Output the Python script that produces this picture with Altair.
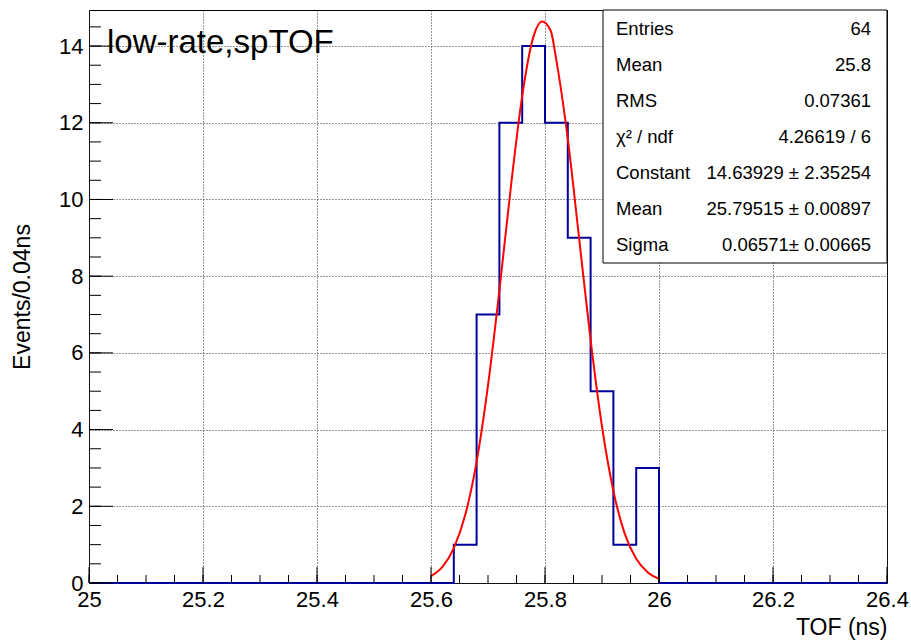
import altair as alt
import pandas as pd
import numpy as np

# ---------------- data ----------------
X_DOMAIN = [25.0, 26.4]
Y_DOMAIN = [0.0, 14.94]

BIN_START = 25.0
BIN_WIDTH = 0.04
COUNTS = [0] * 16 + [1, 7, 12, 14, 12, 9, 5, 1, 3] + [0] * 10  # 35 bins, 64 entries

FIT_X = [25.60, 25.62, 25.64, 25.66, 25.68, 25.70, 25.72, 25.74, 25.76, 25.78,
         25.795, 25.81, 25.82, 25.84, 25.86, 25.88, 25.90, 25.92, 25.94, 25.96,
         25.98, 26.00]
FIT_Y = [0.18, 0.42, 0.91, 1.77, 3.16, 5.15, 7.63, 10.31, 12.70, 14.26,
         14.64, 14.40, 13.62, 11.58, 8.97, 6.34, 4.08, 2.40, 1.28, 0.63,
         0.28, 0.11]

X_LABEL_VALUES = [25.0, 25.2, 25.4, 25.6, 25.8, 26.0, 26.2, 26.4]
Y_LABEL_VALUES = [0, 2, 4, 6, 8, 10, 12, 14]
X_MINOR_STEP = 0.05
Y_MINOR_STEP = 0.5

STAT_LABELS = ["Entries", "Mean", "RMS", "χ² / ndf", "Constant", "Mean", "Sigma"]
STAT_VALUES = ["64", "25.8", "0.07361", "4.26619 / 6", "14.63929 ± 2.35254",
               "25.79515 ± 0.00897", "0.06571± 0.00665"]

TITLE = "low-rate,spTOF"
X_TITLE = "TOF (ns)"
Y_TITLE = "Events/0.04ns"

# ---------------- layout ----------------
W, H = 798, 573
FONT = "Liberation Sans"
HIST_COLOR = "#000099"
FIT_COLOR = "#ff0000"

edges = [round(BIN_START + BIN_WIDTH * i, 4) for i in range(len(COUNTS) + 1)]
hist_df = pd.DataFrame({"x": edges, "y": COUNTS + [0]})
fit_df = pd.DataFrame({"x": FIT_X, "y": FIT_Y})

x_minor = [round(v, 4) for v in np.arange(X_DOMAIN[0], X_DOMAIN[1] + 1e-9, X_MINOR_STEP)]
y_minor = [round(v, 4) for v in np.arange(0, 14.5 + 1e-9, Y_MINOR_STEP)]

xs = alt.Scale(domain=X_DOMAIN, nice=False, zero=False)
ys = alt.Scale(domain=Y_DOMAIN, nice=False, zero=False)

x_axis = alt.Axis(
    values=X_LABEL_VALUES, format="~g", title=X_TITLE, grid=True,
    gridDash=[1, 2], gridColor="#333333", gridWidth=1,
    domain=False, ticks=False, labelFlush=False, labelOverlap=False,
    labelFont=FONT, labelFontSize=22, labelColor="black", labelPadding=6,
    titleFont=FONT, titleFontSize=23, titleFontWeight="normal", titleColor="black",
    titleX=W, titleY=51, titleAlign="right", titleBaseline="alphabetic",
)
y_axis = alt.Axis(
    values=Y_LABEL_VALUES, format="d", title=Y_TITLE, grid=True,
    gridDash=[1, 2], gridColor="#333333", gridWidth=1,
    domain=False, ticks=False, labelFlush=False, labelOverlap=False,
    labelFont=FONT, labelFontSize=22, labelColor="black", labelPadding=6,
    titleFont=FONT, titleFontSize=23, titleFontWeight="normal", titleColor="black",
    titleAngle=270, titleX=-67, titleY=H / 2, titleAlign="center", titleBaseline="middle",
)


def X():
    return alt.X("x:Q", scale=xs, axis=x_axis)


def Y():
    return alt.Y("y:Q", scale=ys, axis=y_axis)


hist = alt.Chart(hist_df).mark_line(
    interpolate="step-after", color=HIST_COLOR, strokeWidth=2
).encode(x=X(), y=Y())

fit = alt.Chart(fit_df).mark_line(
    interpolate="monotone", color=FIT_COLOR, strokeWidth=2
).encode(x=X(), y=Y())

xmaj = alt.Chart(pd.DataFrame({"x": X_LABEL_VALUES})).mark_rule(color="black", strokeWidth=1).encode(
    x=X(), y=alt.value(H), y2=alt.value(H - 16))
xmin = alt.Chart(pd.DataFrame({"x": x_minor})).mark_rule(color="black", strokeWidth=1).encode(
    x=X(), y=alt.value(H), y2=alt.value(H - 8))
ymaj = alt.Chart(pd.DataFrame({"y": Y_LABEL_VALUES})).mark_rule(color="black", strokeWidth=1).encode(
    y=Y(), x=alt.value(0), x2=alt.value(24))
ymin = alt.Chart(pd.DataFrame({"y": y_minor})).mark_rule(color="black", strokeWidth=1).encode(
    y=Y(), x=alt.value(0), x2=alt.value(12))

box = alt.Chart(pd.DataFrame({"a": [0]})).mark_rect(
    fill="white", stroke="black", strokeWidth=1
).encode(x=alt.value(514), x2=alt.value(798), y=alt.value(0), y2=alt.value(253))

stat_layers = []
for i, (lab, val) in enumerate(zip(STAT_LABELS, STAT_VALUES)):
    yy = 18.7 + 36 * i
    d = pd.DataFrame({"lab": [lab], "val": [val]})
    stat_layers.append(
        alt.Chart(d).mark_text(align="left", baseline="middle", font=FONT, fontSize=18.5, color="black")
        .encode(x=alt.value(527), y=alt.value(yy), text="lab:N"))
    stat_layers.append(
        alt.Chart(d).mark_text(align="right", baseline="middle", font=FONT, fontSize=18.5, color="black")
        .encode(x=alt.value(782), y=alt.value(yy), text="val:N"))

title = alt.Chart(pd.DataFrame({"t": [TITLE]})).mark_text(
    align="left", baseline="alphabetic", font=FONT, fontSize=33, color="black"
).encode(x=alt.value(18), y=alt.value(43), text="t:N")

chart = alt.layer(
    hist, fit, xmin, xmaj, ymin, ymaj, box, *stat_layers, title
).properties(
    width=W, height=H,
    autosize=alt.AutoSizeParams(type="none"),
    padding={"left": 89, "top": 10, "right": 24, "bottom": 57},
    background="white",
).configure_view(stroke="black", strokeWidth=1)

chart.save("out.html", embed_options={"renderer": "svg", "actions": False})
